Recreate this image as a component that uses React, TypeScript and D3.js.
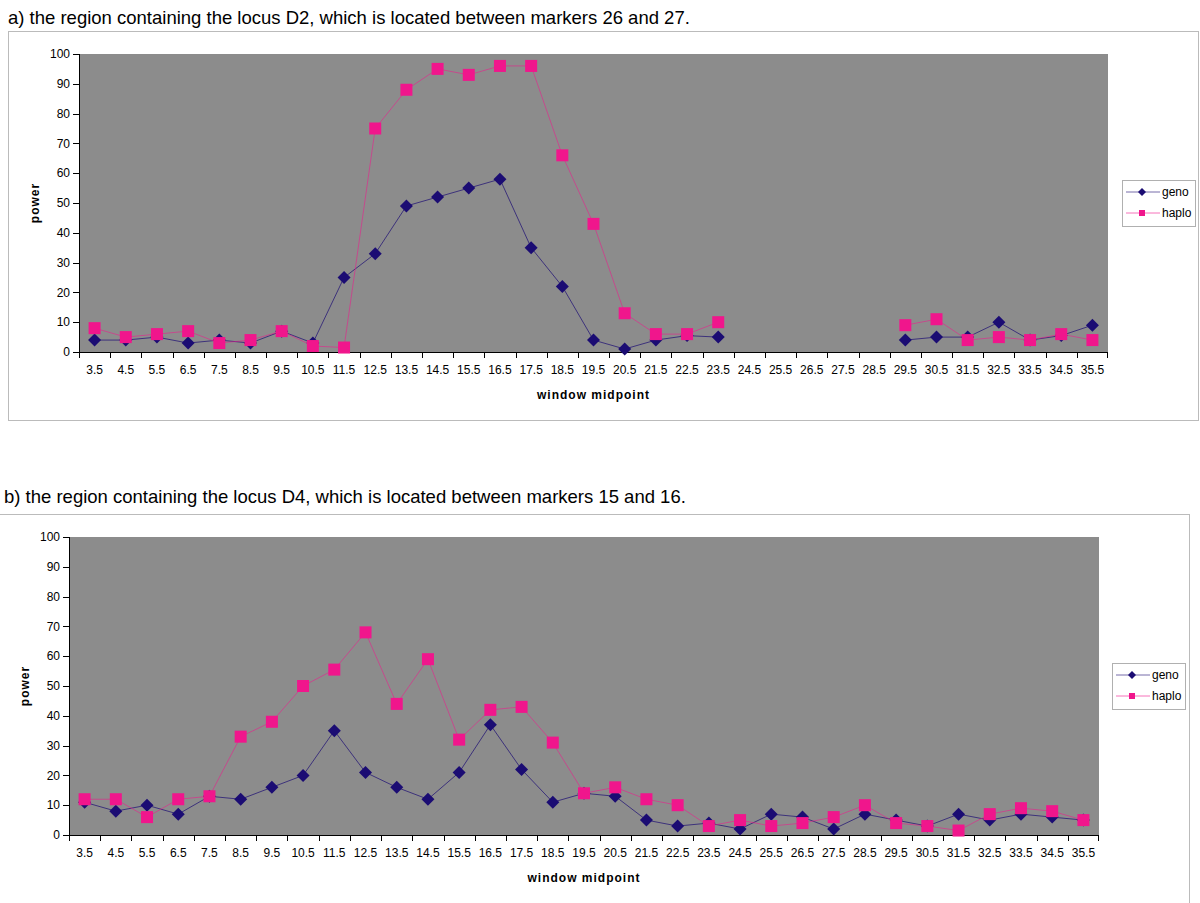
import React from 'react';
import * as d3 from 'd3';

// window midpoints (category axis)
const categories = [
  '3.5', '4.5', '5.5', '6.5', '7.5', '8.5', '9.5', '10.5', '11.5', '12.5', '13.5',
  '14.5', '15.5', '16.5', '17.5', '18.5', '19.5', '20.5', '21.5', '22.5', '23.5',
  '24.5', '25.5', '26.5', '27.5', '28.5', '29.5', '30.5', '31.5', '32.5', '33.5',
  '34.5', '35.5',
];
const yTicks = [0, 10, 20, 30, 40, 50, 60, 70, 80, 90, 100];

// panel a: locus D2 (no values for 24.5 - 28.5)
const genoA = [4, 4, 5, 3, 4, 3, 7, 3, 25, 33, 49, 52, 55, 58, 35, 22, 4, 1, 4, 5.5, 5,
  null, null, null, null, null, 4, 5, 5, 10, 4, 5.5, 9];
const haploA = [8, 5, 6, 7, 3, 4, 7, 2, 1.5, 75, 88, 95, 93, 96, 96, 66, 43, 13, 6, 6, 10,
  null, null, null, null, null, 9, 11, 4, 5, 4, 6, 4];

// panel b: locus D4
const genoB = [11, 8, 10, 7, 13, 12, 16, 20, 35, 21, 16, 12, 21, 37, 22, 11, 14, 13, 5, 3, 4,
  2, 7, 6, 2, 7, 5, 3, 7, 5, 7, 6, 5];
const haploB = [12, 12, 6, 12, 13, 33, 38, 50, 55.5, 68, 44, 59, 32, 42, 43, 31, 14, 16, 12, 10, 3,
  5, 3, 4, 6, 10, 4, 3, 1.5, 7, 9, 8, 5];

const seriesNames = ['geno', 'haplo'];
const GENO = '#1b0c73';
const HAPLO = '#f0168c';
const FONT = 'Arial, "Liberation Sans", sans-serif';

type PanelProps = {
  left: number; right: number; top: number; bottom: number;
  geno: (number | null)[]; haplo: (number | null)[];
  legendX: number;
};

const diamond = (cx: number, cy: number, r: number) =>
  `M${cx},${cy - r}L${cx + r},${cy}L${cx},${cy + r}L${cx - r},${cy}Z`;

const Panel = ({ left, right, top, bottom, geno, haplo, legendX }: PanelProps) => {
  const x = d3.scaleBand<string>().domain(categories).range([left, right]).padding(0);
  const y = d3.scaleLinear().domain([0, 100]).range([bottom, top]);
  const cx = (i: number) => (x(categories[i]) as number) + x.bandwidth() / 2;

  const line = d3.line<number | null>()
    .defined(d => d != null)
    .x((_, i) => cx(i))
    .y(d => y(d as number));

  const midY = (top + bottom) / 2;
  const legendY = midY - 23;

  return (
    <g fontFamily={FONT}>
      <rect x={left} y={top} width={right - left} height={bottom - top} fill="#8c8c8c" />
      {/* y axis */}
      <line x1={left + 0.5} x2={left + 0.5} y1={top} y2={bottom} stroke="#000" />
      {yTicks.map(t => (
        <g key={t}>
          <line x1={left - 6} x2={left} y1={Math.round(y(t)) + 0.5} y2={Math.round(y(t)) + 0.5} stroke="#000" />
          <text x={left - 9} y={y(t)} dy="0.35em" textAnchor="end" fontSize={12}>{t}</text>
        </g>
      ))}
      {/* x axis */}
      <line x1={left} x2={right} y1={bottom + 0.5} y2={bottom + 0.5} stroke="#000" />
      {categories.map(c => (
        <line key={'t' + c} x1={Math.round(x(c) as number) + 0.5} x2={Math.round(x(c) as number) + 0.5}
          y1={bottom} y2={bottom + 6} stroke="#000" />
      ))}
      <line x1={right - 0.5} x2={right - 0.5} y1={bottom} y2={bottom + 6} stroke="#000" />
      {categories.map((c, i) => (
        <text key={'l' + c} x={cx(i)} y={bottom + 22} textAnchor="middle" fontSize={12}>{c}</text>
      ))}
      <text x={(left + right) / 2} y={bottom + 47} textAnchor="middle" fontSize={12}
        fontWeight="bold" letterSpacing={1}>window midpoint</text>
      <text transform={`translate(${left - 40},${midY}) rotate(-90)`} textAnchor="middle"
        fontSize={12} fontWeight="bold" letterSpacing={1}>power</text>

      {/* geno */}
      <path d={line(geno) as string} fill="none" stroke={GENO} strokeWidth={1} strokeOpacity={0.7} />
      {geno.map((v, i) => v == null ? null : (
        <path key={'g' + i} d={diamond(cx(i), y(v), 6.5)} fill={GENO} />
      ))}
      {/* haplo */}
      <path d={line(haplo) as string} fill="none" stroke={HAPLO} strokeWidth={1} strokeOpacity={0.55} />
      {haplo.map((v, i) => v == null ? null : (
        <rect key={'h' + i} x={cx(i) - 6} y={y(v) - 6} width={12} height={12} fill={HAPLO} />
      ))}

      {/* legend */}
      <rect x={legendX + 0.5} y={legendY + 0.5} width={73} height={46} fill="#fff" stroke="#b0b0b0" />
      {seriesNames.map((s, i) => {
        const ly = legendY + 12 + i * 21;
        const col = i === 0 ? GENO : HAPLO;
        return (
          <g key={s}>
            <line x1={legendX + 4} x2={legendX + 38} y1={ly} y2={ly} stroke={col} strokeOpacity={0.6} />
            {i === 0
              ? <path d={diamond(legendX + 20, ly, 4)} fill={col} />
              : <rect x={legendX + 17} y={ly - 3} width={6} height={6} fill={col} />}
            <text x={legendX + 40} y={ly} dy="0.35em" fontSize={12}>{s}</text>
          </g>
        );
      })}
    </g>
  );
};

export default function App() {
  return (
    <div style={{ position: 'absolute', left: 0, top: 0 }}>
      <svg width={1200} height={903} style={{ display: 'block', background: '#fff' }}>
        <text x={8} y={24} fontFamily={FONT} fontSize={18.5}>
          a) the region containing the locus D2, which is located between markers 26 and 27.
        </text>
        <rect x={8.5} y={31.5} width={1190} height={389} fill="none" stroke="#bbb" />
        <Panel left={79} right={1108} top={54} bottom={352} geno={genoA} haplo={haploA} legendX={1122} />

        <text x={4} y={503} fontFamily={FONT} fontSize={18.5}>
          b) the region containing the locus D4, which is located between markers 15 and 16.
        </text>
        <line x1={0} x2={1189.5} y1={514.5} y2={514.5} stroke="#bbb" />
        <line x1={1189.5} x2={1189.5} y1={514} y2={903} stroke="#bbb" />
        <Panel left={69} right={1099} top={537} bottom={835} geno={genoB} haplo={haploB} legendX={1112} />
      </svg>
    </div>
  );
}
